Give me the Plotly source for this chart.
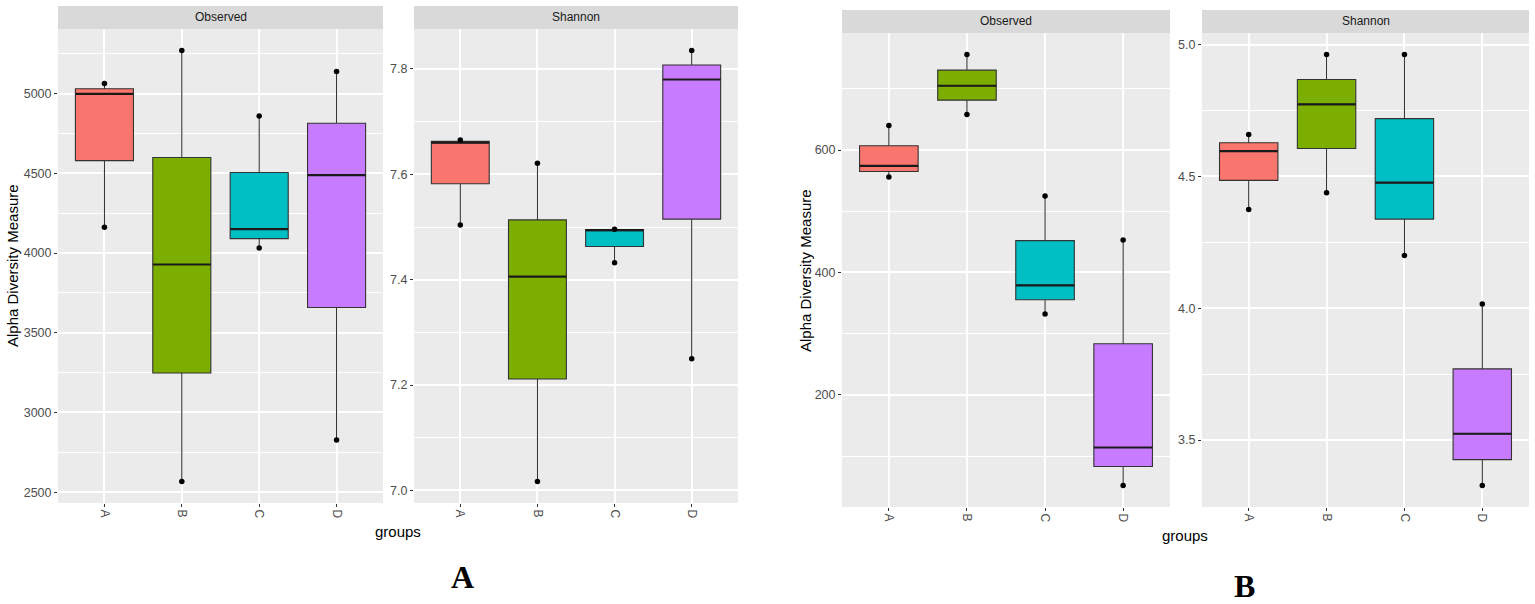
import numpy as np
import plotly.graph_objs as go

# alpha diversity boxplots, two ggplot-style facet figures side by side (A and B)

groups = ["A", "B", "C", "D"]
colors = ["#F8766D", "#7CAE00", "#00BFC4", "#C77CFF"]

# three samples per group (min, median, max)
a_observed = [[4161, 4998, 5063], [2567, 3928, 5270], [4031, 4150, 4860], [2827, 4489, 5138]]
a_shannon = [[7.504, 7.660, 7.665], [7.017, 7.406, 7.621], [7.432, 7.494, 7.496], [7.250, 7.780, 7.835]]
b_observed = [[556, 574, 640], [658, 705, 756], [332, 379, 525], [52, 114, 453]]
b_shannon = [[4.374, 4.596, 4.659], [4.438, 4.773, 4.962], [4.200, 4.476, 4.962], [3.328, 3.524, 4.016]]

W, H = 1535, 604
font = "Liberation Sans, Arial, sans-serif"

# pixel boxes of each panel: (left, right), (top, bottom), strip top
panels = [
    dict(vals=a_observed, name="Observed", px=(58, 383), py=(29, 503), strip=6, dtick=500, fmt="d"),
    dict(vals=a_shannon, name="Shannon", px=(414, 738), py=(29, 503), strip=6, dtick=0.2, fmt=".1f"),
    dict(vals=b_observed, name="Observed", px=(842, 1170), py=(33, 507), strip=10, dtick=200, fmt="d"),
    dict(vals=b_shannon, name="Shannon", px=(1202, 1529), py=(33, 507), strip=10, dtick=0.5, fmt=".1f"),
]

fig = go.Figure()
shapes = []
annotations = []

for k, p in enumerate(panels):
    n = "" if k == 0 else str(k + 1)
    xa, ya = "x" + n, "y" + n
    allv = []
    for i, (g, vals) in enumerate(zip(groups, p["vals"])):
        allv += vals
        fig.add_trace(go.Box(
            x=[i] * len(vals), y=vals, name=g, xaxis=xa, yaxis=ya,
            width=0.75, fillcolor=colors[i], line=dict(color="#333333", width=1.1),
            whiskerwidth=0, boxpoints=False, quartilemethod="inclusive",
            showlegend=False))
        med = float(np.median(vals))
        # ggplot draws the median line thicker than the box outline
        fig.add_trace(go.Scatter(
            x=[i - 0.375, i + 0.375], y=[med, med], mode="lines", xaxis=xa, yaxis=ya,
            line=dict(color="#1a1a1a", width=2.2), showlegend=False, hoverinfo="skip"))
        fig.add_trace(go.Scatter(
            x=[i, i], y=[min(vals), max(vals)], mode="markers", xaxis=xa, yaxis=ya,
            marker=dict(color="black", size=5.5), showlegend=False))

    lo, hi = min(allv), max(allv)
    pad = 0.05 * (hi - lo)
    x0, x1 = p["px"]
    y0, y1 = p["py"]

    fig.layout["xaxis" + n] = dict(
        domain=[x0 / W, x1 / W], anchor=ya, range=[-0.6, 3.6],
        tickvals=list(range(len(groups))), ticktext=groups, tickangle=90,
        showgrid=True, gridcolor="white", gridwidth=2, zeroline=False,
        ticks="outside", ticklen=3, tickcolor="#333333",
        tickfont=dict(family=font, size=12, color="#4d4d4d"))
    fig.layout["yaxis" + n] = dict(
        domain=[1 - y1 / H, 1 - y0 / H], anchor=xa, range=[lo - pad, hi + pad],
        dtick=p["dtick"], tick0=0, tickformat=p["fmt"],
        showgrid=True, gridcolor="white", gridwidth=2, zeroline=False,
        minor=dict(dtick=p["dtick"] / 2, tick0=0, showgrid=True, gridcolor="white", gridwidth=1),
        ticks="outside", ticklen=3, tickcolor="#333333",
        tickfont=dict(family=font, size=12.5, color="#4d4d4d"))

    # facet strip
    shapes.append(dict(type="rect", xref="paper", yref="paper",
                       x0=x0 / W, x1=x1 / W, y0=1 - y0 / H, y1=1 - p["strip"] / H,
                       fillcolor="#d9d9d9", line=dict(width=0), layer="below"))
    annotations.append(dict(text=p["name"], xref="paper", yref="paper",
                            x=(x0 + x1) / 2 / W, y=1 - (y0 + p["strip"]) / 2 / H,
                            xanchor="center", yanchor="middle",
                            showarrow=False, font=dict(family=font, size=12, color="#1a1a1a")))

# axis titles and figure letters
for tx, ty in [(13, 266), (806, 270)]:
    annotations.append(dict(text="Alpha Diversity Measure", xref="paper", yref="paper",
                            x=tx / W, y=1 - ty / H, textangle=-90, showarrow=False,
                            xanchor="center", yanchor="middle",
                            font=dict(family=font, size=15, color="black")))
for tx, ty in [(398, 531), (1185, 535)]:
    annotations.append(dict(text="groups", xref="paper", yref="paper",
                            x=tx / W, y=1 - ty / H, showarrow=False,
                            xanchor="center", yanchor="middle",
                            font=dict(family=font, size=15, color="black")))
for txt, tx, ty in [("A", 462, 577), ("B", 1244, 586)]:
    annotations.append(dict(text="<b>" + txt + "</b>", xref="paper", yref="paper",
                            x=tx / W, y=1 - ty / H, showarrow=False,
                            xanchor="center", yanchor="middle",
                            font=dict(family="Liberation Serif, Times New Roman, serif", size=32, color="black")))

fig.update_layout(
    width=W, height=H, margin=dict(l=0, r=0, t=0, b=0),
    paper_bgcolor="white", plot_bgcolor="#EBEBEB",
    boxmode="overlay", showlegend=False,
    shapes=shapes, annotations=annotations)

# drop the browser's default 8px body margin so the figure fills the window
fig.write_html("out.html", config={"displayModeBar": False},
               post_script="document.body.style.margin = '0';")
